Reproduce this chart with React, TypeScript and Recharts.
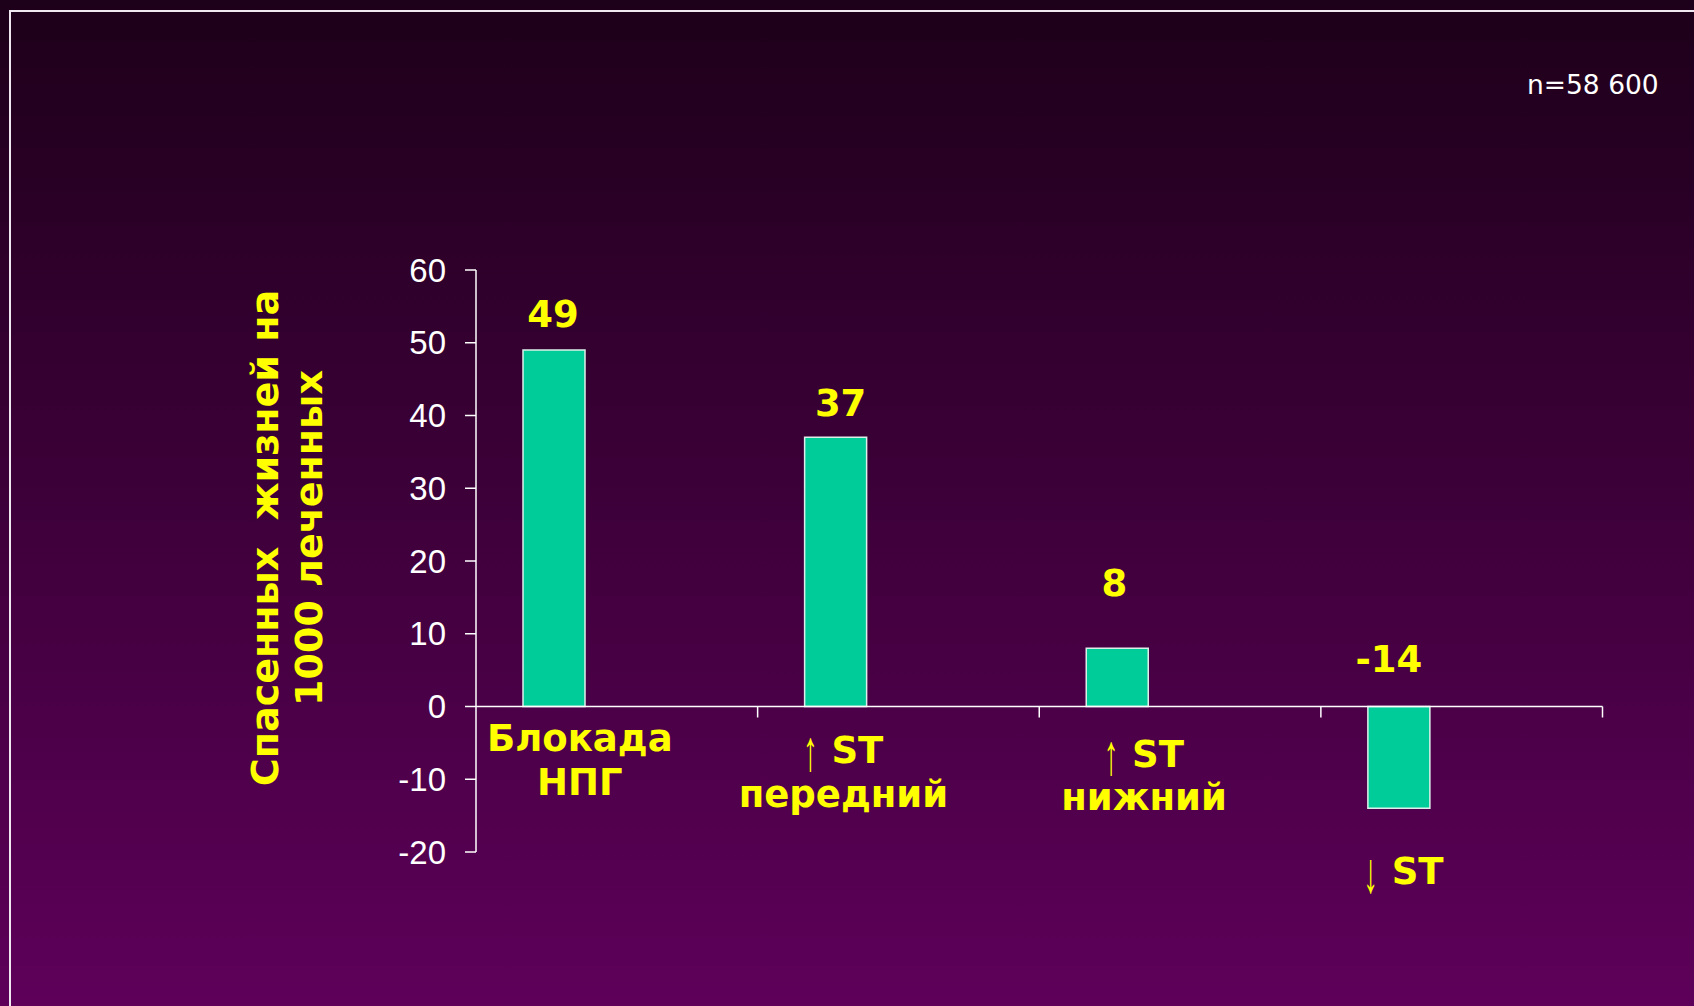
import { BarChart, Bar, XAxis, YAxis, ReferenceLine, LabelList, Rectangle } from "recharts";

// lives saved per 1000 treated, by ECG presentation
const categories = ["Блокада\nНПГ", "↑ ST\nпередний", "↑ ST\nнижний", "↓ ST"];
const livesSaved = [49, 37, 8, -14];
const yTicks = [-20, -10, 0, 10, 20, 30, 40, 50, 60];
const yTitle = ["Спасенных  жизней на", "1000 леченных"];
const sampleNote = "n=58 600";

const data = categories.map((name, i) => ({ name, value: livesSaved[i] }));

const W = 1694;
const H = 1006;
const PLOT = { left: 476, right: 1602.5, top: 270, bottom: 852 };
const Y_AXIS_W = 60;
const X_AXIS_H = 20;
const Y_MIN = -20;
const Y_MAX = 60;
const ZERO_Y = PLOT.top + ((PLOT.bottom - PLOT.top) * Y_MAX) / (Y_MAX - Y_MIN);
const BAND = (PLOT.right - PLOT.left) / categories.length;
const BAR_SHIFT = 63; // bars sit left of the band centre

const YELLOW = "#FFFF00";
const BOLD_FONT = "'DejaVu Sans', Verdana, sans-serif";
const ARROW_FONT = "'Liberation Sans', Arial, sans-serif";

// value labels: [dx, lift above bar top / zero line]
const valueLabelNudge = [
  [-1, 23.5],
  [5, 21.7],
  [-3, 52.3],
  [-10, 34.8],
];

// category labels: dx from band centre, baselines below the zero line
const categoryLabelPlace = [
  { dx: -37, lines: [44.2, 88.5] },
  { dx: -55, lines: [56.2, 100.2] },
  { dx: -36, lines: [60.2, 103.5] },
  { dx: -58, lines: [177.5] },
];

const textProps = {
  fill: YELLOW,
  fontFamily: BOLD_FONT,
  fontWeight: "bold",
  fontSize: 37,
};

// one label line; a leading arrow is drawn as a tall thin glyph
function LabelLine({ text, cx, y }: { text: string; cx: number; y: number }) {
  const m = text.match(/^([↑↓])\s*(.*)$/);
  if (!m) {
    return (
      <text x={cx} y={y} textAnchor="middle" {...textProps}>
        {text}
      </text>
    );
  }
  return (
    <g>
      <text
        transform={`translate(${cx - 33}, ${y + 7.5}) scale(0.8, 1.55)`}
        textAnchor="middle"
        fill={YELLOW}
        fontFamily={ARROW_FONT}
        fontSize={37}
      >
        {m[1]}
      </text>
      <text x={cx - 12} y={y} textAnchor="start" {...textProps}>
        {m[2]}
      </text>
    </g>
  );
}

function CategoryTick(props: any) {
  const { x, index, payload } = props;
  const place = categoryLabelPlace[index] ?? { dx: 0, lines: [50, 94] };
  const lines = String(payload.value).split("\n");
  const cx = x + place.dx;
  return (
    <g>
      <line
        x1={x + BAND / 2}
        x2={x + BAND / 2}
        y1={ZERO_Y}
        y2={ZERO_Y + 11}
        stroke="#FFFFFF"
        strokeWidth={1.5}
      />
      {lines.map((l, i) => (
        <LabelLine key={i} text={l} cx={cx} y={ZERO_Y + place.lines[i]} />
      ))}
    </g>
  );
}

function ValueLabel(props: any) {
  const vb = props.viewBox ?? props;
  const { x, y, width, height } = vb;
  const i = props.index ?? livesSaved.indexOf(Number(props.value));
  const [dx, lift] = valueLabelNudge[i] ?? [0, 20];
  const anchorY = Math.min(y, y + height);
  return (
    <text x={x + width / 2 - BAR_SHIFT + dx} y={anchorY - lift} textAnchor="middle" {...textProps}>
      {props.value}
    </text>
  );
}

function YTitle() {
  const cy = 538;
  const baselines = [278, 321.5];
  return (
    <g>
      {yTitle.map((t, i) => (
        <text
          key={i}
          x={baselines[i]}
          y={cy}
          transform={`rotate(-90, ${baselines[i]}, ${cy})`}
          textAnchor="middle"
          {...textProps}
          fontSize={38}
          style={{ whiteSpace: "pre" }}
        >
          {t}
        </text>
      ))}
    </g>
  );
}

export default function App() {
  return (
    <div
      style={{
        position: "fixed",
        left: 0,
        top: 0,
        width: W,
        height: H,
        overflow: "hidden",
        background: "linear-gradient(180deg, #1D0019 0%, #5E005A 100%)",
      }}
    >
      <div
        style={{
          position: "absolute",
          left: 8.5,
          top: 10,
          width: W,
          height: H,
          border: "2px solid #EFE8F0",
        }}
      />
      <div style={{ position: "absolute", left: 0, top: 0 }}>
        <BarChart
          width={W}
          height={H}
          data={data}
          margin={{
            top: PLOT.top,
            right: W - PLOT.right,
            left: PLOT.left - Y_AXIS_W,
            bottom: H - PLOT.bottom - X_AXIS_H,
          }}
        >
          <XAxis
            dataKey="name"
            height={X_AXIS_H}
            axisLine={false}
            tickLine={false}
            interval={0}
            tick={<CategoryTick />}
          />
          <YAxis
            width={Y_AXIS_W}
            domain={[Y_MIN, Y_MAX]}
            ticks={yTicks}
            interval={0}
            axisLine={{ stroke: "#FFFFFF", strokeWidth: 1.5 }}
            tickLine={{ stroke: "#FFFFFF", strokeWidth: 1.5 }}
            tickSize={11}
            tickMargin={19}
            tick={{ fill: "#FFFFFF", fontSize: 33, fontFamily: "'Liberation Sans', Arial, sans-serif" }}
            label={{ content: () => <YTitle /> }}
          />
          <Bar
            dataKey="value"
            fill="#00CC99"
            stroke="#DDEFEA"
            strokeWidth={1.5}
            barSize={62}
            isAnimationActive={false}
            shape={(p: any) => (
              <Rectangle
                x={p.x - BAR_SHIFT}
                y={p.y}
                width={p.width}
                height={p.height}
                fill={p.fill}
                stroke={p.stroke}
                strokeWidth={p.strokeWidth}
              />
            )}
          >
            <LabelList dataKey="value" content={ValueLabel} />
          </Bar>
          <ReferenceLine y={0} stroke="#FFFFFF" strokeWidth={1.5} />
        </BarChart>
      </div>
      <div
        style={{
          position: "absolute",
          left: 1527,
          top: 70,
          color: "#FFFFFF",
          fontFamily: "'DejaVu Sans', Verdana, sans-serif",
          fontSize: 26.5,
          lineHeight: "30px",
          whiteSpace: "pre",
        }}
      >
        {sampleNote}
      </div>
    </div>
  );
}
